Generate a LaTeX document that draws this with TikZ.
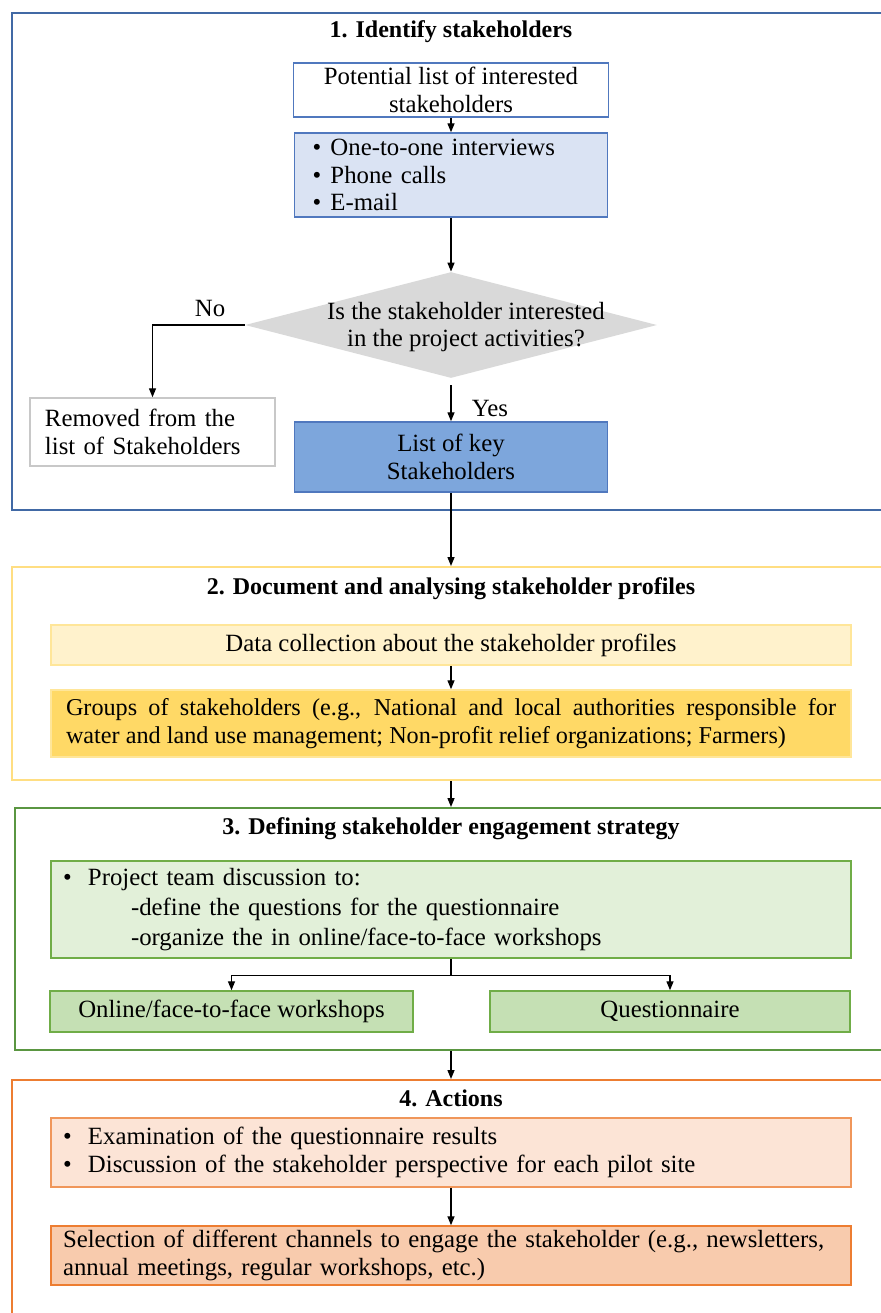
\documentclass[tikz,border=0pt]{standalone}
\usepackage{fontspec}
\setmainfont{Liberation Serif}
\usetikzlibrary{arrows.meta, shapes.geometric}

\definecolor{frameblue}{RGB}{65,105,165}
\definecolor{boxblue}{RGB}{80,120,190}
\definecolor{paleblue}{RGB}{218,227,243}
\definecolor{keyblue}{RGB}{125,166,220}
\definecolor{decgrey}{RGB}{217,217,217}
\definecolor{remgrey}{RGB}{200,200,200}
\definecolor{frameyellow}{RGB}{255,222,130}
\definecolor{paleyellow}{RGB}{255,242,204}
\definecolor{lineyellow}{RGB}{255,230,153}
\definecolor{goldyellow}{RGB}{255,217,102}
\definecolor{framegreen}{RGB}{90,150,65}
\definecolor{palegreen}{RGB}{226,240,217}
\definecolor{linegreen}{RGB}{112,173,71}
\definecolor{midgreen}{RGB}{197,224,180}
\definecolor{frameorange}{RGB}{237,125,49}
\definecolor{paleorange}{RGB}{252,228,214}
\definecolor{lineorange}{RGB}{240,150,90}
\definecolor{midorange}{RGB}{248,203,173}

\newcommand{\bul}{\makebox[12.5pt][l]{\textbullet}}

\begin{document}
\begin{tikzpicture}[x=0.5pt, y=-0.5pt,
    every node/.style = {font=\fontsize{12.4}{13.8}\selectfont},
    title/.style = {font=\fontsize{12}{13.8}\selectfont\bfseries},
    frame/.style = {draw, line width=1pt, inner sep=0pt},
    box/.style = {draw, line width=0.75pt, inner sep=0pt, align=center},
    listbox/.style = {draw, line width=0.75pt, inner xsep=6pt, inner ysep=0pt, align=left},
    decision/.style = {diamond, fill=decgrey, inner sep=0pt,
        minimum width=206pt, minimum height=53pt},
    link/.style = {line width=0.7pt},
    arr/.style = {link, -{Triangle[length=4.5pt, width=3.5pt]}}]
    % \draw [help lines, step=50] (0,0) grid (881,1313);
    \useasboundingbox (0,0) rectangle (881,1313);
    \clip (0,0) rectangle (881,1313);

    % frames
    \node (f1) [frame, draw=frameblue, minimum width=494pt,
        minimum height=248.5pt] at (506,261.5) {};
    \node (f2) [frame, draw=frameyellow, minimum width=494pt,
        minimum height=106.5pt] at (506,673.5) {};
    \node (f3) [frame, draw=framegreen, minimum width=492.5pt,
        minimum height=121pt] at (507.5,929) {};
    \node (f4) [frame, draw=frameorange, minimum width=494pt,
        minimum height=160pt] at (506,1240) {};

    % 1. Identify stakeholders
    \node (t1) [title] at (451,32) {1. Identify stakeholders};
    \node (pot) [box, draw=boxblue, fill=white, minimum width=157.5pt,
        minimum height=27pt] at (451,90) {Potential list of interested\\stakeholders};
    \node (chan) [listbox, draw=boxblue, fill=paleblue, inner xsep=9pt,
        text width=138.5pt, minimum height=42pt] at (451,175)
        {\makebox[9pt][l]{\textbullet}One-to-one interviews\\
         \makebox[9pt][l]{\textbullet}Phone calls\\
         \makebox[9pt][l]{\textbullet}E-mail};
    \node (dec) [decision] at (451,325) {};
    \node (qtext) [align=center] at (466,327)
        {Is the stakeholder interested\\in the project activities?};
    \node (no) at (210,308) {No};
    \node (rem) [listbox, draw=remgrey, fill=white, inner xsep=7.5pt,
        text width=107.5pt, minimum height=34pt] at (152.5,432)
        {Removed from the\\list of Stakeholders};
    \node (yes) at (490,408) {Yes};
    \node (key) [box, draw=boxblue, fill=keyblue, minimum width=156.5pt,
        minimum height=35pt] at (451,457) {List of key\\Stakeholders};

    % 2. Document and analysing stakeholder profiles
    \node (t2) [title] at (451,589) {2. Document and analysing stakeholder profiles};
    \node (data) [box, draw=lineyellow, fill=paleyellow, minimum width=400pt,
        minimum height=20pt] at (451,645) {Data collection about the stakeholder profiles};
    \node (grp) [draw=lineyellow, line width=0.75pt, fill=goldyellow,
        inner xsep=7.5pt, inner ysep=0pt, text width=385pt, align=justify,
        minimum height=33.5pt, font=\fontsize{12.1}{13.8}\selectfont] at (451,723.5)
        {Groups of stakeholders (e.g., National and local authorities responsible for\linebreak
         water and land use management; Non-profit relief organizations; Farmers)};

    % 3. Defining stakeholder engagement strategy
    \node (t3) [title] at (451,829) {3. Defining stakeholder engagement strategy};
    \node (disc) [listbox, draw=linegreen, fill=palegreen, text width=388pt,
        minimum height=48.5pt] at (451,909.5)
        {\bul Project team discussion to:\\[1.2pt]
         \hspace*{34pt}-define the questions for the questionnaire\\[1.2pt]
         \hspace*{34pt}-organize the in online/face-to-face workshops};
    \coordinate (split) at ([yshift=-8.5pt]disc.south);
    \node (work) [box, draw=linegreen, fill=midgreen, minimum width=181.5pt,
        minimum height=20.5pt] at (231.5,1011.5) {Online/face-to-face workshops};
    \node (quest) [box, draw=linegreen, fill=midgreen, minimum width=180pt,
        minimum height=20.5pt] at (670,1011.5) {Questionnaire};

    % 4. Actions
    \node (t4) [title] at (451,1098) {4. Actions};
    \node (exam) [listbox, draw=lineorange, fill=paleorange, text width=388pt,
        minimum height=34.5pt] at (451,1152.5)
        {\bul Examination of the questionnaire results\\
         \bul Discussion of the stakeholder perspective for each pilot site};
    \node (sel) [listbox, draw=frameorange, fill=midorange, text width=388pt,
        minimum height=29.5pt] at (451,1255.5)
        {Selection of different channels to engage the stakeholder (e.g., newsletters,\\
         annual meetings, regular workshops, etc.)};

    % connectors
    \draw [arr] (pot) -- (chan);
    \draw [arr] (chan) -- (dec);
    \draw [arr] (dec.west) -| (rem.north);
    \draw [arr, shorten <=3.5pt] (dec.south) -- (key.north);
    \draw [arr] (key.south) -- (key.south |- f2.north);
    \draw [arr] (data) -- (grp);
    \draw [arr] (grp.south |- f2.south) -- (grp.south |- f3.north);
    \draw [link] (disc.south) -- (split);
    \draw [arr] (split) -| (work.north);
    \draw [arr] (split) -| (quest.north);
    \draw [arr] (disc.south |- f3.south) -- (disc.south |- f4.north);
    \draw [arr] (exam) -- (sel);
\end{tikzpicture}
\end{document}
